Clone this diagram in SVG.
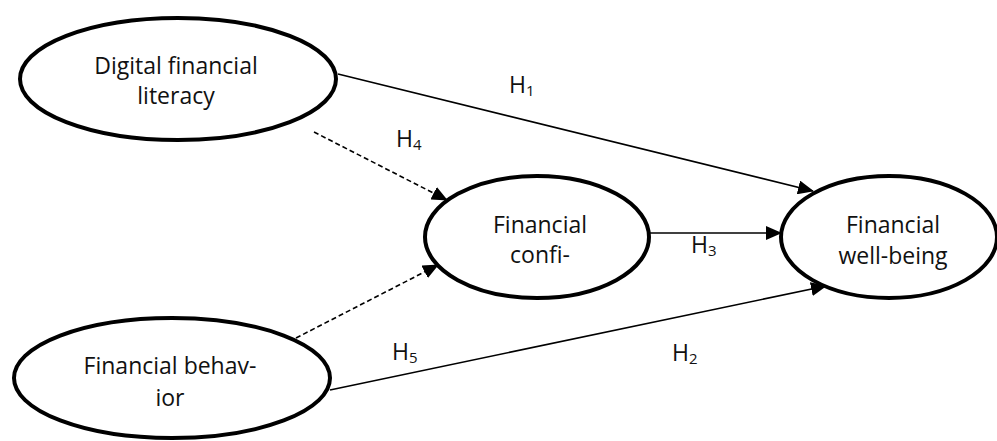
<svg xmlns="http://www.w3.org/2000/svg" width="997" height="441" viewBox="0 0 997 441">
<style>
.node ellipse{fill:#fff;stroke:#000;stroke-width:4}
text{font-family:"Open Sans","Liberation Sans",sans-serif;font-size:23px;fill:#111;text-anchor:middle}
.lbl{text-anchor:start;font-size:23px}
.sub{font-size:15px}
.edge{stroke:#000;stroke-width:1.6;fill:none}
.dash{stroke-dasharray:5 3}
</style>
<defs>
<marker id="arr" markerUnits="userSpaceOnUse" markerWidth="16" markerHeight="14" refX="15" refY="7" orient="auto">
<path d="M0,0 L16,7 L0,14 Z" fill="#000"/>
</marker>
</defs>
<g id="connectors">
<line class="edge" x1="338" y1="74" x2="813" y2="191" marker-end="url(#arr)"/>
<line class="edge dash" x1="314" y1="132" x2="447" y2="200" marker-end="url(#arr)"/>
<line class="edge dash" x1="296" y1="338" x2="438" y2="265" marker-end="url(#arr)"/>
<line class="edge" x1="649" y1="233" x2="781" y2="233" marker-end="url(#arr)"/>
<line class="edge" x1="330" y1="390" x2="826" y2="286" marker-end="url(#arr)"/>
</g>
<g id="n-dfl" class="node">
<ellipse cx="178" cy="79" rx="158" ry="61"/>
<text x="176" y="74">Digital financial</text>
<text x="176" y="104">literacy</text>
</g>
<g id="n-fc" class="node">
<ellipse cx="537" cy="237" rx="112" ry="61"/>
<text x="540" y="233">Financial</text>
<text x="540" y="263">confi-</text>
</g>
<g id="n-fwb" class="node">
<ellipse cx="889" cy="237" rx="108" ry="61"/>
<text x="893" y="233">Financial</text>
<text x="893" y="264">well-being</text>
</g>
<g id="n-fb" class="node">
<ellipse cx="172" cy="378" rx="158" ry="60"/>
<text x="170" y="374">Financial behav-</text>
<text x="170" y="406">ior</text>
</g>
<g id="labels">
<text class="lbl" x="509" y="93">H<tspan class="sub" dy="3">1</tspan></text>
<text class="lbl" x="396" y="147">H<tspan class="sub" dy="3">4</tspan></text>
<text class="lbl" x="691" y="253">H<tspan class="sub" dy="3">3</tspan></text>
<text class="lbl" x="392" y="360">H<tspan class="sub" dy="3">5</tspan></text>
<text class="lbl" x="672" y="361">H<tspan class="sub" dy="3">2</tspan></text>
</g>
</svg>
